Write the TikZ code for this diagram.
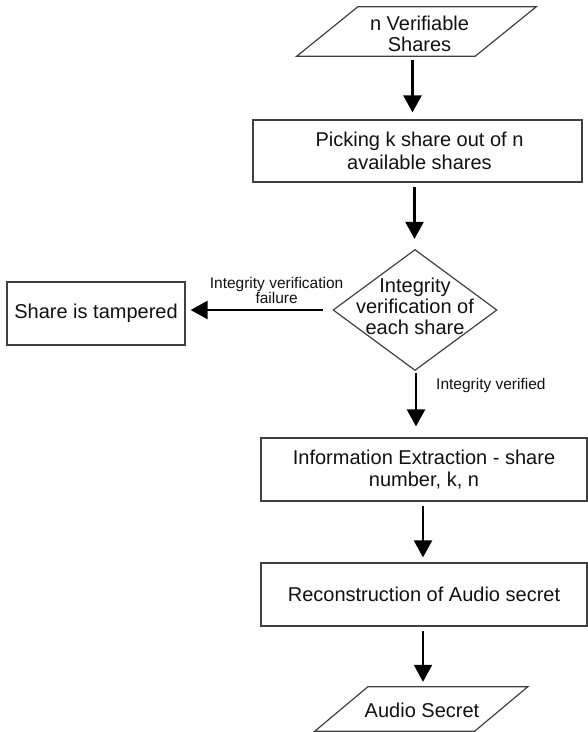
\documentclass[tikz,border=0pt]{standalone}
\usepackage{fontspec}
\setmainfont{Liberation Sans}
\usetikzlibrary{arrows.meta,shapes.geometric,calc}

\definecolor{edge}{HTML}{404040}
\definecolor{ink}{HTML}{111111}

\tikzset{
  procbox/.style={draw=edge, line width=1.2pt, rectangle, inner sep=0pt,
    align=center, text=ink, font=\fontsize{20}{22.5}\selectfont},
  iobox/.style={rectangle, inner sep=0pt, align=center, text=ink,
    font=\fontsize{20}{21}\selectfont},
  decide/.style={draw=edge, line width=1.2pt, diamond, inner sep=0pt},
  bodytext/.style={inner sep=0pt, align=center, text=ink,
    font=\fontsize{20}{21}\selectfont},
  flowarrow/.style={line width=2.4pt, draw=black,
    -{Triangle[width=18pt,length=17pt]}},
  edgelabel/.style={inner sep=0pt, align=center, text=ink,
    font=\fontsize{15.5}{15}\selectfont},
  outline/.style={draw=edge, line width=1.2pt, line join=miter}
}

\begin{document}
\begin{tikzpicture}[x=1pt, y=-1pt]
  \useasboundingbox (0,0) rectangle (588,732);

  % input data
  \node[iobox, minimum width=178pt, minimum height=49pt] (in) at (416.5,31.5) {};
  \draw[outline] ([xshift=-30.5pt]in.south west) -- ([xshift=30.5pt]in.north west)
    -- ([xshift=30.5pt]in.north east) -- ([xshift=-30.5pt]in.south east) -- cycle;
  \node[bodytext] (intext) at (419.5,33.5) {n Verifiable\\Shares};

  % selection step
  \node[procbox, minimum width=329pt, minimum height=62pt] (pick) at (417.5,151)
    {\hspace*{4pt}Picking k share out of n\\\hspace*{4pt}available shares};

  % integrity check
  \node[decide, minimum width=164pt, minimum height=121pt] (check) at (415,310) {};
  \node[bodytext] (checktext) at (415,306) {Integrity\\verification of\\each share};

  % failure outcome
  \node[procbox, minimum width=178pt, minimum height=63pt] (tamper) at (96,313.5)
    {Share is tampered};

  % extraction and reconstruction
  \node[procbox, minimum width=326pt, minimum height=63pt] (extract) at (424,469.5)
    {Information Extraction - share\\number, k, n};
  \node[procbox, minimum width=326pt, minimum height=63pt] (rebuild) at (424,594.5)
    {Reconstruction of Audio secret};

  % output data
  \node[iobox, minimum width=159.5pt, minimum height=44pt] (out) at (421.25,709) {};
  \draw[outline] ([xshift=-26.5pt]out.south west) -- ([xshift=26.5pt]out.north west)
    -- ([xshift=26.5pt]out.north east) -- ([xshift=-26.5pt]out.south east) -- cycle;
  \node[bodytext] (outtext) at (422,710) {Audio Secret};

  % connectors
  \draw[flowarrow, shorten <=4pt, shorten >=7pt]
    ([xshift=-4pt]in.south) -- ([xshift=-4pt]in.south |- pick.north);
  \draw[flowarrow, shorten <=4pt, shorten >=10pt]
    ([xshift=-3pt]pick.south) -- ([xshift=-3pt]pick.south |- check.north);
  \draw[flowarrow, shorten <=9pt, shorten >=5pt]
    (check.west) -- (check.west -| tamper.east)
    node[edgelabel, pos=0.38, above=5pt] (faillabel) {Integrity verification\\failure};
  \draw[flowarrow, shorten <=2pt, shorten >=11pt]
    ([xshift=1pt]check.south) -- ([xshift=1pt]check.south |- extract.north)
    node[edgelabel, pos=0.22, anchor=west, xshift=19pt] (oklabel) {Integrity verified};
  \draw[flowarrow, shorten <=4pt, shorten >=5pt]
    ([xshift=-1pt]extract.south) -- ([xshift=-1pt]extract.south |- rebuild.north);
  \draw[flowarrow, shorten <=4pt, shorten >=5pt]
    ([xshift=-1pt]rebuild.south) -- ([xshift=-1pt]rebuild.south |- out.north);
\end{tikzpicture}
\end{document}
